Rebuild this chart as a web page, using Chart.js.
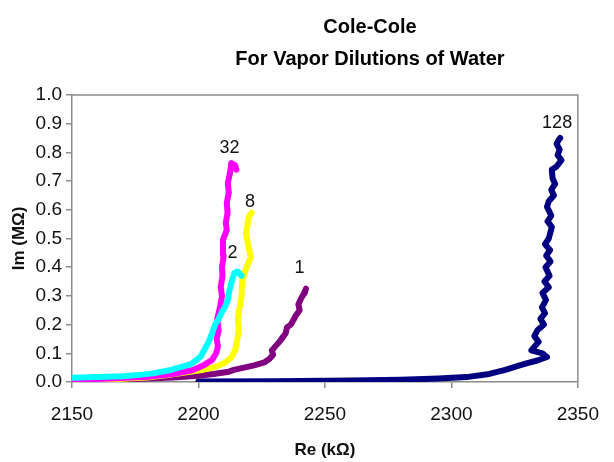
<!DOCTYPE html>
<html>
<head>
<meta charset="utf-8">
<script src="https://cdn.jsdelivr.net/npm/chart.js@4.4.1/dist/chart.umd.min.js"></script>
<style>
  html, body { margin: 0; padding: 0; background: #ffffff; }
  #wrap { width: 614px; height: 462px; position: relative; }
</style>
</head>
<body>
<div id="wrap"><canvas id="c" width="614" height="462"></canvas></div>
<script>
const FONT = "'Liberation Sans', Arial, sans-serif";

const titleLines = ["Cole-Cole", "For Vapor Dilutions of Water"];
const xAxisTitle = "Re (kΩ)";
const yAxisTitle = "Im (MΩ)";
const xTickValues = [2150, 2200, 2250, 2300, 2350];
const yTickValues = [0.0, 0.1, 0.2, 0.3, 0.4, 0.5, 0.6, 0.7, 0.8, 0.9, 1.0];

const seriesNames = ["1", "2", "8", "32", "128"];

const re1 = [2150, 2160, 2170, 2180, 2190, 2200, 2206, 2212, 2214, 2218, 2222, 2226, 2228, 2229.5, 2229, 2230.5, 2232, 2233, 2234.5, 2235, 2236.5, 2237.5, 2238.5, 2240, 2239.5, 2240.5, 2241.5, 2242.5, 2242];
const im1 = [0.004, 0.006, 0.009, 0.012, 0.016, 0.022, 0.028, 0.036, 0.042, 0.05, 0.058, 0.068, 0.08, 0.095, 0.11, 0.125, 0.14, 0.152, 0.17, 0.19, 0.2, 0.215, 0.232, 0.25, 0.27, 0.29, 0.305, 0.325, 0.31];

const re2 = [2150, 2160, 2170, 2176, 2182, 2188, 2193, 2197, 2199, 2201, 2202.8, 2204, 2205, 2206.6, 2208, 2209, 2210.4, 2211.6, 2212, 2213, 2214.2, 2215.5, 2217];
const im2 = [0.015, 0.017, 0.02, 0.024, 0.03, 0.04, 0.052, 0.062, 0.075, 0.09, 0.12, 0.14, 0.16, 0.2, 0.22, 0.24, 0.26, 0.285, 0.31, 0.345, 0.38, 0.385, 0.37];

const re8 = [2150, 2165, 2180, 2188.6, 2196, 2202, 2206.6, 2210, 2213, 2214.5, 2215.4, 2216, 2215.6, 2216.3, 2217, 2217.3, 2219, 2220.7, 2219.8, 2218.8, 2219.9, 2221];
const im8 = [0.006, 0.009, 0.016, 0.025, 0.035, 0.043, 0.052, 0.065, 0.085, 0.11, 0.15, 0.18, 0.22, 0.26, 0.3, 0.355, 0.4, 0.435, 0.47, 0.52, 0.575, 0.59];

const re32 = [2150, 2165, 2180, 2190, 2197.8, 2202, 2205.4, 2207, 2207.7, 2207.2, 2208, 2207.4, 2208.5, 2209.3, 2208.8, 2209.5, 2209.3, 2210, 2209.7, 2211.2, 2210.8, 2211.5, 2211.2, 2212, 2211.6, 2212.5, 2213, 2214.5, 2215];
const im32 = [0.008, 0.012, 0.018, 0.028, 0.042, 0.058, 0.077, 0.1, 0.125, 0.15, 0.18, 0.22, 0.26, 0.3, 0.33, 0.37, 0.4, 0.44, 0.495, 0.53, 0.554, 0.59, 0.624, 0.66, 0.693, 0.73, 0.763, 0.755, 0.74];

const re128 = [2200, 2230, 2260, 2280, 2295, 2306, 2315, 2321.3, 2326, 2330, 2334, 2337.8, 2336, 2331.6, 2333, 2334.5, 2332.8, 2334, 2336.6, 2335.2, 2337, 2335.8, 2337.4, 2336, 2338.5, 2336.8, 2338.8, 2337.2, 2339.2, 2337.5, 2339, 2337, 2338.5, 2339.7, 2338, 2339.5, 2337.8, 2338.5, 2340.5, 2339.5, 2341, 2340, 2339.7, 2341.5, 2343.5, 2342, 2342.8, 2341.6, 2342.5, 2343];
const im128 = [0.002, 0.003, 0.005, 0.008, 0.012, 0.017, 0.028, 0.042, 0.055, 0.066, 0.075, 0.087, 0.1, 0.11, 0.125, 0.14, 0.16, 0.18, 0.2, 0.22, 0.24, 0.26, 0.286, 0.31, 0.33, 0.35, 0.37, 0.4, 0.42, 0.44, 0.46, 0.48, 0.5, 0.54, 0.56, 0.58, 0.61, 0.63, 0.65, 0.67, 0.69, 0.71, 0.74, 0.75, 0.773, 0.79, 0.81, 0.83, 0.845, 0.85];

// label anchor positions in data units (x, y) for the series names
const labelRe = [2239.9, 2213.5, 2220.4, 2212.3, 2341.8];
const labelIm = [0.397, 0.45, 0.627, 0.815, 0.902];

const seriesColors = ["#800080", "#00ffff", "#ffff00", "#ff00ff", "#000080"];

function toPoints(xs, ys) { return xs.map((x, i) => ({ x: x, y: ys[i] })); }

const allRe = [re1, re2, re8, re32, re128];
const allIm = [im1, im2, im8, im32, im128];
const drawOrder = [3, 0, 2, 1, 4];

const datasets = seriesNames.map((name, i) => ({
  label: name,
  data: toPoints(allRe[i], allIm[i]),
  showLine: true,
  borderColor: seriesColors[i],
  backgroundColor: seriesColors[i],
  borderWidth: 6,
  pointRadius: 0,
  tension: 0,
  borderJoinStyle: 'round',
  borderCapStyle: 'round',
  order: drawOrder[i]
}));

const decorPlugin = {
  id: 'decor',
  beforeDatasetsDraw(chart) {
    const { ctx, chartArea: a } = chart;
    ctx.save();
    ctx.strokeStyle = '#8c8c8c';
    ctx.lineWidth = 1.5;
    ctx.beginPath();
    ctx.moveTo(a.left, a.top);
    ctx.lineTo(a.right, a.top);
    ctx.lineTo(a.right, a.bottom);
    ctx.stroke();
    ctx.restore();
  },
  afterDraw(chart) {
    const { ctx } = chart;
    const xs = chart.scales.x, ys = chart.scales.y;
    ctx.save();
    ctx.fillStyle = '#000';
    ctx.textAlign = 'center';
    ctx.textBaseline = 'alphabetic';
    ctx.font = "bold 20px " + FONT;
    ctx.fillText(titleLines[0], 370, 33);
    ctx.fillText(titleLines[1], 370, 65);
    ctx.textBaseline = 'middle';
    ctx.font = "18px " + FONT;
    ctx.fillStyle = '#111';
    seriesNames.forEach((n, i) => {
      ctx.fillText(n, xs.getPixelForValue(labelRe[i]), ys.getPixelForValue(labelIm[i]));
    });
    ctx.restore();
  }
};

new Chart(document.getElementById('c'), {
  type: 'scatter',
  data: { datasets: datasets },
  plugins: [decorPlugin],
  options: {
    responsive: false,
    animation: false,
    devicePixelRatio: 1,
    layout: { padding: { top: 95, right: 19, left: 0, bottom: 0 } },
    plugins: { legend: { display: false }, tooltip: { enabled: false }, title: { display: false } },
    scales: {
      x: {
        type: 'linear',
        min: 2150, max: 2350,
        afterBuildTicks(s) { s.ticks = xTickValues.map(v => ({ value: v })); },
        afterFit(s) { s.height = 80; },
        ticks: {
          color: '#111',
          font: { family: FONT, size: 19 },
          padding: 15,
          maxRotation: 0,
          autoSkip: false,
          callback: v => String(v)
        },
        grid: { display: true, drawOnChartArea: false, drawTicks: true, tickLength: 6, color: '#8c8c8c', lineWidth: 1.5 },
        border: { display: true, color: '#8c8c8c', width: 1.5 },
        title: { display: true, text: xAxisTitle, color: '#111', font: { family: FONT, size: 17, weight: 'bold' }, padding: { top: 0, bottom: 1 } }
      },
      y: {
        type: 'linear',
        min: 0, max: 1,
        afterBuildTicks(s) { s.ticks = yTickValues.map(v => ({ value: v })); },
        afterFit(s) { s.width = 72; },
        ticks: {
          color: '#111',
          font: { family: FONT, size: 19 },
          padding: 4,
          autoSkip: false,
          callback: v => Number(v).toFixed(1)
        },
        grid: { display: true, drawOnChartArea: false, drawTicks: true, tickLength: 6, color: '#8c8c8c', lineWidth: 1.5 },
        border: { display: true, color: '#8c8c8c', width: 1.5 },
        title: { display: true, text: yAxisTitle, color: '#111', font: { family: FONT, size: 17, weight: 'bold' }, padding: { top: 9, bottom: 0 } }
      }
    }
  }
});
</script>
</body>
</html>
